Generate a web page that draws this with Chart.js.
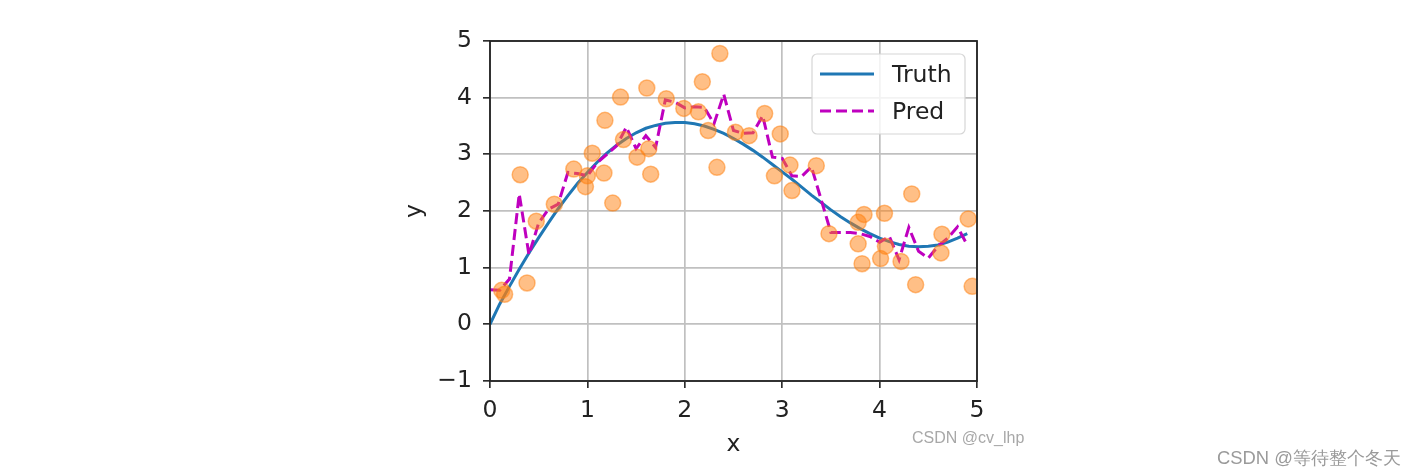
<!DOCTYPE html>
<html>
<head>
<meta charset="utf-8">
<script src="https://cdn.jsdelivr.net/npm/chart.js@4.4.1/dist/chart.umd.min.js"></script>
<style>
  body { margin: 0; background: #fff; }
  #wrap { position: relative; width: 1423px; height: 476px; }
  .mark { position: absolute; font-family: "Liberation Sans", Arial, sans-serif; white-space: nowrap; }
</style>
</head>
<body>
<div id="wrap">
  <canvas id="kernelChart" width="1423" height="476"></canvas>
  <div class="mark" style="left:912px; top:429px; font-size:16px; color:#a8a8a8;">CSDN @cv_lhp</div>
  <div class="mark" style="left:1217px; top:445px; font-size:18.4px; color:#9a9a9a;">CSDN @等待整个冬天</div>
</div>
<script>
// test grid
const xTest = [0, 0.1, 0.2, 0.3, 0.4, 0.5, 0.6, 0.7, 0.8, 0.9,
  1.0, 1.1, 1.2, 1.3, 1.4, 1.5, 1.6, 1.7, 1.8, 1.9,
  2.0, 2.1, 2.2, 2.3, 2.4, 2.5, 2.6, 2.7, 2.8, 2.9,
  3.0, 3.1, 3.2, 3.3, 3.4, 3.5, 3.6, 3.7, 3.8, 3.9,
  4.0, 4.1, 4.2, 4.3, 4.4, 4.5, 4.6, 4.7, 4.8, 4.9];

const truthY = [0.00, 0.36, 0.67, 0.97, 1.26, 1.53, 1.79, 2.04, 2.27, 2.49,
  2.68, 2.86, 3.02, 3.16, 3.28, 3.38, 3.46, 3.51, 3.55, 3.56,
  3.56, 3.54, 3.50, 3.44, 3.37, 3.28, 3.18, 3.07, 2.95, 2.82,
  2.69, 2.56, 2.42, 2.28, 2.15, 2.02, 1.90, 1.79, 1.69, 1.60,
  1.52, 1.46, 1.41, 1.38, 1.37, 1.38, 1.40, 1.45, 1.52, 1.60];

const predY = [0.61, 0.60, 0.80, 2.30, 1.23, 1.79, 2.03, 2.12, 2.68, 2.66,
  2.62, 2.85, 3.00, 3.15, 3.48, 3.10, 3.33, 3.12, 3.96, 3.92,
  3.82, 3.84, 3.83, 3.54, 4.06, 3.42, 3.37, 3.38, 3.68, 2.95,
  2.93, 2.62, 2.61, 2.78, 2.20, 1.62, 1.62, 1.62, 1.60, 1.55,
  1.45, 1.55, 1.14, 1.71, 1.29, 1.17, 1.38, 1.52, 1.72, 1.40];

// orange training samples
const trainX = [0.12, 0.15, 0.31, 0.38, 0.475, 0.66, 0.86, 0.98, 1.00, 1.05,
  1.17, 1.18, 1.26, 1.34, 1.37, 1.51, 1.61, 1.63, 1.65, 1.81,
  1.99, 2.14, 2.18, 2.24, 2.33, 2.36, 2.52, 2.66, 2.82, 2.92,
  2.98, 3.08, 3.10, 3.35, 3.48, 3.78, 3.78, 3.82, 3.84, 4.01,
  4.05, 4.06, 4.22, 4.33, 4.37, 4.64, 4.63, 4.91, 4.95];
const trainY = [0.60, 0.53, 2.64, 0.73, 1.82, 2.12, 2.74, 2.43, 2.62, 3.02,
  2.67, 3.60, 2.14, 4.01, 3.26, 2.95, 4.17, 3.10, 2.65, 3.98,
  3.81, 3.75, 4.28, 3.42, 2.77, 4.78, 3.39, 3.33, 3.72, 2.62,
  3.36, 2.81, 2.36, 2.80, 1.60, 1.80, 1.42, 1.07, 1.94, 1.16,
  1.96, 1.38, 1.11, 2.30, 0.70, 1.59, 1.26, 1.86, 0.67];

const xTicks = [0, 1, 2, 3, 4, 5];
const yTicks = [-1, 0, 1, 2, 3, 4, 5];

const FONT = "'DejaVu Sans', sans-serif";
const INK = "#222222";

function pts(xs, ys) {
  return xs.map((x, i) => ({ x: x, y: ys[i] }));
}

// spines + legend, matplotlib style
const frameAndLegend = {
  id: "frameAndLegend",
  afterDraw(chart) {
    const { ctx, chartArea: a } = chart;
    ctx.save();
    ctx.strokeStyle = "#222";
    ctx.lineWidth = 1.8;
    ctx.strokeRect(a.left, a.top, a.right - a.left, a.bottom - a.top);

    const bx = a.right - 165, by = a.top + 13, bw = 153, bh = 80;
    ctx.beginPath();
    ctx.roundRect(bx, by, bw, bh, 5);
    ctx.fillStyle = "rgba(255,255,255,0.8)";
    ctx.fill();
    ctx.strokeStyle = "#d6d6d6";
    ctx.lineWidth = 1.2;
    ctx.stroke();

    ctx.lineWidth = 3;
    ctx.strokeStyle = "#1f77b4";
    ctx.beginPath();
    ctx.moveTo(bx + 8, by + 20);
    ctx.lineTo(bx + 62, by + 20);
    ctx.stroke();

    ctx.strokeStyle = "#bf00bf";
    ctx.setLineDash([11, 5]);
    ctx.beginPath();
    ctx.moveTo(bx + 8, by + 57);
    ctx.lineTo(bx + 62, by + 57);
    ctx.stroke();
    ctx.setLineDash([]);

    ctx.fillStyle = INK;
    ctx.font = "23.5px " + FONT;
    ctx.textBaseline = "middle";
    ctx.fillText("Truth", bx + 80, by + 22);
    ctx.fillText("Pred", bx + 80, by + 59);
    ctx.restore();
  }
};

new Chart(document.getElementById("kernelChart").getContext("2d"), {
  type: "scatter",
  data: {
    datasets: [
      {
        label: "train",
        data: pts(trainX, trainY),
        backgroundColor: "rgba(255,127,14,0.5)",
        borderColor: "rgba(255,127,14,0.5)",
        borderWidth: 1.5,
        pointRadius: 8,
        order: 0
      },
      {
        label: "Pred",
        data: pts(xTest, predY),
        showLine: true,
        borderColor: "#bf00bf",
        borderWidth: 3,
        borderDash: [11, 5],
        pointRadius: 0,
        order: 1
      },
      {
        label: "Truth",
        data: pts(xTest, truthY),
        showLine: true,
        borderColor: "#1f77b4",
        borderWidth: 3,
        pointRadius: 0,
        order: 2
      }
    ]
  },
  options: {
    responsive: false,
    animation: false,
    layout: { padding: { left: 400, right: 446, top: 41, bottom: 0 } },
    plugins: { legend: { display: false }, tooltip: { enabled: false } },
    scales: {
      x: {
        type: "linear",
        min: 0,
        max: 5,
        afterFit: s => { s.height = 95; },
        afterBuildTicks: s => { s.ticks = xTicks.map(v => ({ value: v })); },
        grid: { color: "#c0c0c0", lineWidth: 1.7, tickColor: "#222", tickLength: 7, tickWidth: 1.6 },
        border: { display: false },
        ticks: { color: INK, font: { family: FONT, size: 23.5 }, padding: 9 },
        title: { display: true, text: "x", color: INK, font: { family: FONT, size: 23.5 }, padding: { top: 0, bottom: 17 } }
      },
      y: {
        min: -1,
        max: 5,
        afterFit: s => { s.width = 90; },
        afterBuildTicks: s => { s.ticks = yTicks.map(v => ({ value: v })); },
        grid: { color: "#c0c0c0", lineWidth: 1.7, tickColor: "#222", tickLength: 7, tickWidth: 1.6 },
        border: { display: false },
        ticks: { color: INK, font: { family: FONT, size: 23.5 }, padding: 11, callback: v => v < 0 ? "\u2212" + Math.abs(v) : String(v) },
        title: { display: true, text: "y", color: INK, font: { family: FONT, size: 23.5 }, padding: { top: 1, bottom: 0 } }
      }
    }
  },
  plugins: [frameAndLegend]
});
</script>
</body>
</html>
